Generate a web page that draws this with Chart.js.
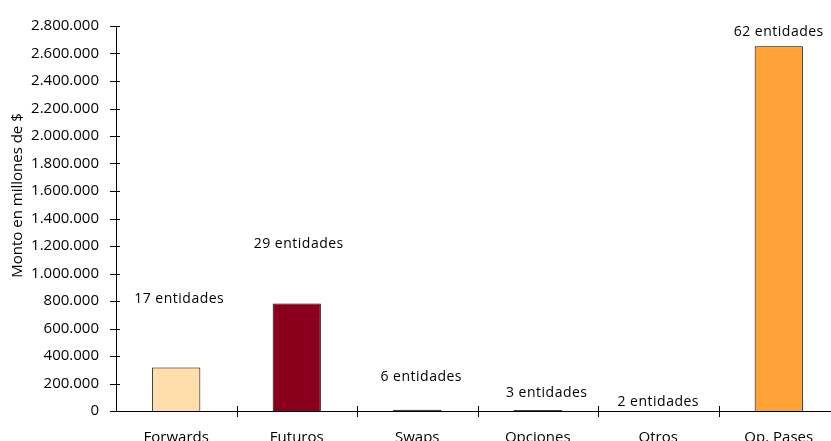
<!DOCTYPE html>
<html>
<head>
<meta charset="utf-8">
<script src="https://cdn.jsdelivr.net/npm/chart.js@4"></script>
<style>
  html, body { margin: 0; padding: 0; background: #fff; overflow: hidden; }
  #wrap { width: 845px; height: 441px; }
</style>
</head>
<body>
<div id="wrap"><canvas id="chart"></canvas></div>
<script>
// Montos por instrumento (millones de $) y cantidad de entidades
const categorias = ['Forwards', 'Futuros', 'Swaps', 'Opciones', 'Otros', 'Op. Pases'];
const montos = [317000, 782000, 9000, 8000, 500, 2652000];
const entidades = [17, 29, 6, 3, 2, 62];
const colores = ['#FFDEAB', '#8A001C', '#2a0008', '#2a0008', '#2a0008', '#FFA238'];
const tituloEje = 'Monto en millones de $';

const fuente = '"Open Sans", "DejaVu Sans", sans-serif';

function formatoMiles(v) {
    return String(v).replace(/\B(?=(\d{3})+(?!\d))/g, '.');
}

// marcas cortas que cruzan los ejes
const marcasCruzadas = {
    id: 'marcasCruzadas',
    afterDraw(chart) {
        const { ctx, chartArea, scales: { x, y } } = chart;
        ctx.save();
        ctx.strokeStyle = '#000';
        ctx.lineWidth = 1;
        ctx.beginPath();
        y.ticks.forEach((t, i) => {
            const py = Math.round(y.getPixelForTick(i)) + 0.5;
            ctx.moveTo(chartArea.left - 6, py);
            ctx.lineTo(chartArea.left + 4, py);
        });
        for (let i = 1; i < categorias.length; i++) {
            const px = Math.round(x.getPixelForValue(i - 0.5)) + 0.5;
            ctx.moveTo(px, chartArea.bottom - 5);
            ctx.lineTo(px, chartArea.bottom + 6);
        }
        ctx.stroke();
        ctx.restore();
    }
};

// título del eje vertical, algo por encima del centro
const tituloVertical = {
    id: 'tituloVertical',
    afterDraw(chart, args, opts) {
        const { ctx, chartArea } = chart;
        ctx.save();
        ctx.translate(opts.x, (chartArea.top + chartArea.bottom) / 2 - opts.subir);
        ctx.rotate(-Math.PI / 2);
        ctx.font = '15px ' + fuente;
        ctx.fillStyle = '#000';
        ctx.textAlign = 'center';
        ctx.textBaseline = 'middle';
        ctx.fillText(tituloEje, 0, 0);
        ctx.restore();
    }
};

// texto "N entidades" sobre cada barra
const etiquetasEntidades = {
    id: 'etiquetasEntidades',
    afterDatasetsDraw(chart, args, opts) {
        const ctx = chart.ctx;
        const meta = chart.getDatasetMeta(0);
        ctx.save();
        ctx.font = '14px ' + fuente;
        ctx.letterSpacing = '0.5px';
        ctx.fillStyle = '#000';
        ctx.textAlign = 'center';
        ctx.textBaseline = 'middle';
        meta.data.forEach((bar, i) => {
            ctx.fillText(entidades[i] + ' entidades', bar.x + opts.dx[i], bar.y - opts.alto[i]);
        });
        ctx.letterSpacing = '0px';
        ctx.restore();
    }
};

new Chart(document.getElementById('chart'), {
    type: 'bar',
    data: {
        labels: categorias,
        datasets: [{
            data: montos,
            backgroundColor: colores,
            borderColor: '#000',
            borderWidth: 1,
            barPercentage: 0.4,
            categoryPercentage: 1
        }]
    },
    options: {
        responsive: true,
        maintainAspectRatio: false,
        animation: false,
        layout: { padding: { top: 23, right: 6, bottom: 0, left: 0 } },
        plugins: {
            legend: { display: false },
            tooltip: { enabled: false },
            tituloVertical: { x: 18, subir: 23 },
            etiquetasEntidades: {
                dx: [3, 2, 4, 9, 0, 0],
                alto: [68, 59, 33, 17, 9, 14]
            }
        },
        scales: {
            x: {
                grid: { display: false, drawTicks: false },
                border: { color: '#000', width: 1 },
                ticks: { color: '#000', padding: 18, font: { family: fuente, size: 15 } },
                afterFit(scale) { scale.height = 30; }
            },
            y: {
                min: 0,
                max: 2800000,
                grid: { display: false, drawTicks: false },
                border: { color: '#000', width: 1 },
                ticks: {
                    stepSize: 200000,
                    color: '#000',
                    padding: 17,
                    font: { family: fuente, size: 15 },
                    callback: v => formatoMiles(v)
                },
                afterFit(scale) { scale.width = 116; }
            }
        }
    },
    plugins: [marcasCruzadas, tituloVertical, etiquetasEntidades]
});
</script>
</body>
</html>
